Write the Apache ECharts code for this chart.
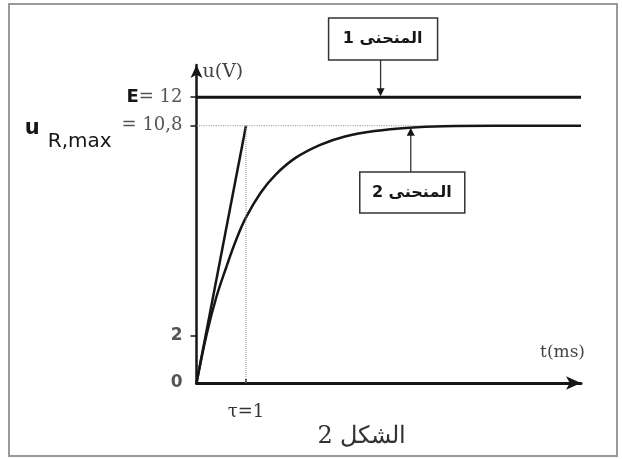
<!DOCTYPE html>
<html>
<head>
<meta charset="utf-8">
<title>u(t)</title>
<script src="https://cdn.jsdelivr.net/npm/echarts@6/dist/echarts.min.js"></script>
<style>
  html, body { margin: 0; padding: 0; background: #fff; }
  #chart { width: 622px; height: 459px; }
</style>
</head>
<body>
<div id="chart"></div>
<script>
// points (t in ms, u in V)
var curve2T = [0, 0.2, 0.4, 0.6, 0.8, 1.0, 1.3, 1.6, 2.0, 2.5, 3.0, 3.6, 4.3, 5.0, 6.0, 7.77]
var curve2U = [0, 2.0, 3.6, 4.85, 6.0, 6.95, 8.0, 8.75, 9.45, 10.0, 10.35, 10.58, 10.72, 10.78, 10.8, 10.8]
var curve1T = [0, 7.77]
var curve1U = [12, 12]
var tangentT = [0, 1]
var tangentU = [0, 10.8]
var tau = 1
var uMax = 10.8
var E = 12
var tMax = 7.77
var uTop = 13.35
var yTickValues = [0, 2, 10.8, 12]
var yTickLabels = ['0', '2', '10,8', '12']
var xTickValues = [1]
var xTickLabels = ['τ=1']
var curveNames = ['المنحنى 1', 'المنحنى 2']
var figTitle = 'الشكل 2'
var arrowT = [3.72, 4.33] // where the callout arrows hit the curves
var dottedEndT = 4.5

var SERIF = '"DejaVu Serif", "Liberation Serif", serif'
var SANS = '"DejaVu Sans", sans-serif'
var INK = '#161616'

function pairs(xs, ys) {
  return xs.map(function(x, i) { return [x, ys[i]] })
}
function rtl(s) {
  return '\u202B' + s + '\u202C'
}

var chart = echarts.init(document.getElementById('chart'))

chart.setOption({
  backgroundColor: '#fff',
  animation: false,
  grid: { left: 196.5, right: 41, top: 65, bottom: 76 },
  xAxis: {
    type: 'value',
    min: 0,
    max: tMax,
    splitLine: { show: false },
    axisLine: {
      onZero: false,
      symbol: ['none', 'arrow'],
      symbolSize: [10, 15],
      lineStyle: { color: INK, width: 3 }
    },
    axisTick: { customValues: xTickValues, inside: true, length: 4, lineStyle: { color: INK, width: 1.5 } },
    axisLabel: {
      customValues: xTickValues,
      margin: 20,
      fontFamily: SERIF,
      fontSize: 18,
      color: '#333',
      formatter: function(v) { return xTickLabels[xTickValues.indexOf(v)] }
    }
  },
  yAxis: {
    type: 'value',
    min: 0,
    max: uTop,
    splitLine: { show: false },
    axisLine: {
      onZero: false,
      symbol: ['none', 'arrow'],
      symbolSize: [9, 13],
      lineStyle: { color: INK, width: 2.5 }
    },
    axisTick: { customValues: [2, 10.8, 12], length: 6, lineStyle: { color: INK, width: 1.5 } },
    axisLabel: {
      customValues: yTickValues,
      margin: 14,
      formatter: function(v) {
        var txt = yTickLabels[yTickValues.indexOf(v)]
        if (v === E) return '{e|E}{s|= ' + txt + '}'
        if (v === uMax) return '{u|u}{sub|R,max}{s|= ' + txt + '}'
        return '{d|' + txt + '}'
      },
      rich: {
        d: { fontFamily: SANS, fontWeight: 'bold', fontSize: 17, color: '#555' },
        e: { fontFamily: SANS, fontWeight: 'bold', fontSize: 18, color: INK },
        s: { fontFamily: SERIF, fontSize: 18, color: '#555', lineHeight: 52 },
        u: { fontFamily: SANS, fontWeight: 'bold', fontSize: 21, color: INK, lineHeight: 22, padding: [5, 8, 0, 0] },
        sub: { fontFamily: SANS, fontSize: 20, color: INK, lineHeight: 18, verticalAlign: 'bottom', padding: [0, 10, 0, 0] }
      }
    }
  },
  series: [
    {
      name: curveNames[0],
      type: 'line',
      data: pairs(curve1T, curve1U),
      symbol: 'none',
      lineStyle: { color: INK, width: 3 }
    },
    {
      name: curveNames[1],
      type: 'line',
      data: pairs(curve2T, curve2U),
      smooth: 0.4,
      symbol: 'none',
      lineStyle: { color: INK, width: 2.5 }
    },
    {
      name: 'tangent',
      type: 'line',
      data: pairs(tangentT, tangentU),
      symbol: 'none',
      lineStyle: { color: INK, width: 2.5 }
    },
    {
      name: 'tau',
      type: 'line',
      data: [[tau, 0], [tau, uMax]],
      symbol: 'none',
      lineStyle: { color: '#999', width: 1, type: 'dotted' }
    },
    {
      name: 'umax',
      type: 'line',
      data: [[0, uMax], [dottedEndT, uMax]],
      symbol: 'none',
      lineStyle: { color: '#999', width: 1.2, type: 'dotted' }
    }
  ]
})

// callouts, axis names and frame
var a1 = chart.convertToPixel({ gridIndex: 0 }, [arrowT[0], E])
var a2 = chart.convertToPixel({ gridIndex: 0 }, [arrowT[1], uMax])
var org = chart.convertToPixel({ gridIndex: 0 }, [0, 0])
var end = chart.convertToPixel({ gridIndex: 0 }, [tMax, uTop])

chart.setOption({
  graphic: [
    {
      type: 'rect',
      shape: { x: 9, y: 4, width: 608, height: 452 },
      style: { fill: 'none', stroke: '#9a9a9a', lineWidth: 2 },
      silent: true
    },
    // curve 1 box + arrow
    {
      type: 'rect',
      shape: { x: a1[0] - 52, y: 18, width: 109, height: 42 },
      style: { fill: '#fff', stroke: '#333', lineWidth: 1.5 }
    },
    {
      type: 'text',
      x: a1[0] + 2, y: 39,
      style: { text: rtl(curveNames[0]), font: 'bold 16px ' + SANS, fill: INK, align: 'center', verticalAlign: 'middle' }
    },
    {
      type: 'line',
      shape: { x1: a1[0], y1: 60, x2: a1[0], y2: a1[1] - 6 },
      style: { stroke: '#333', lineWidth: 1.3 }
    },
    {
      type: 'polygon',
      shape: { points: [[a1[0] - 4, a1[1] - 9], [a1[0] + 4, a1[1] - 9], [a1[0], a1[1] - 1]] },
      style: { fill: INK }
    },
    // curve 2 box + arrow
    {
      type: 'rect',
      shape: { x: a2[0] - 51, y: 172, width: 105, height: 41 },
      style: { fill: '#fff', stroke: '#333', lineWidth: 1.5 }
    },
    {
      type: 'text',
      x: a2[0] + 1, y: 193,
      style: { text: rtl(curveNames[1]), font: 'bold 16px ' + SANS, fill: INK, align: 'center', verticalAlign: 'middle' }
    },
    {
      type: 'line',
      shape: { x1: a2[0], y1: 172, x2: a2[0], y2: a2[1] + 6 },
      style: { stroke: '#333', lineWidth: 1.3 }
    },
    {
      type: 'polygon',
      shape: { points: [[a2[0] - 4, a2[1] + 10], [a2[0] + 4, a2[1] + 10], [a2[0], a2[1] + 2]] },
      style: { fill: INK }
    },
    // axis names
    {
      type: 'text',
      x: org[0] + 6, y: end[1] + 7,
      style: { text: 'u(V)', font: '19px ' + SERIF, fill: '#444', align: 'left', verticalAlign: 'middle' }
    },
    {
      type: 'text',
      x: end[0] + 4, y: org[1] - 30,
      style: { text: 't(ms)', font: '17px ' + SERIF, fill: '#444', align: 'right', verticalAlign: 'middle' }
    },
    {
      type: 'text',
      x: 362, y: 437,
      style: { text: rtl(figTitle), font: '24px ' + SERIF, fill: '#333', align: 'center', verticalAlign: 'middle' }
    }
  ]
})
</script>
</body>
</html>
